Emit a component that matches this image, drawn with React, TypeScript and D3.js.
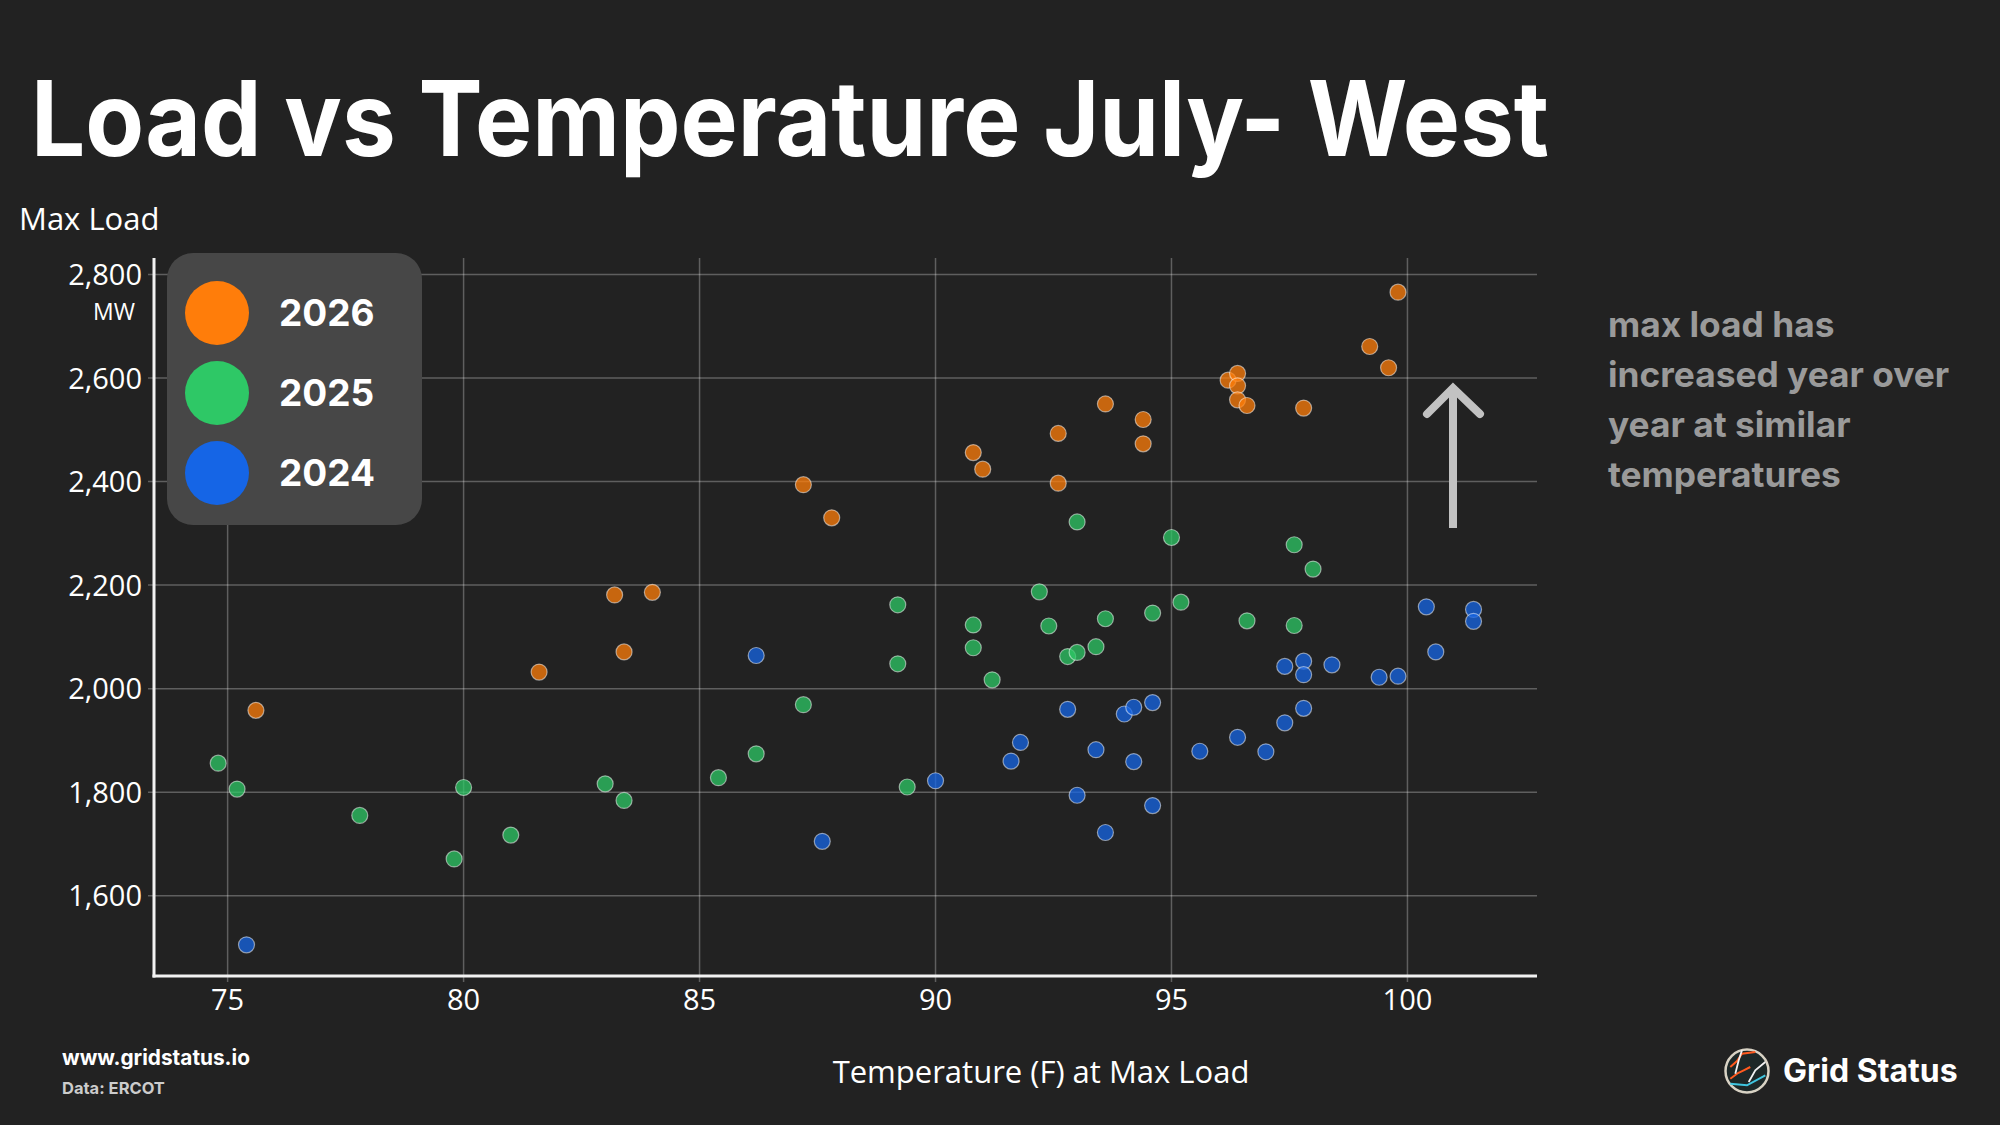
import React from "react";
import * as d3 from "d3";

const years = ["2026", "2025", "2024"];
const yearColors = ["#ff7d0a", "#2ec866", "#1565e6"];

const temp2026 = [75.6, 81.6, 83.2, 83.4, 84.0, 87.2, 87.8, 90.8, 91.0, 92.6, 92.6, 93.6, 94.4, 94.4, 96.2, 96.4, 96.4, 96.4, 96.6, 97.8, 99.2, 99.6, 99.8];
const load2026 = [1958, 2032, 2181, 2071, 2186, 2394, 2330, 2456, 2424, 2493, 2397, 2550, 2520, 2473, 2596, 2609, 2585, 2558, 2547, 2542, 2661, 2620, 2766];

const temp2025 = [74.8, 75.2, 77.8, 79.8, 80.0, 81.0, 83.0, 83.4, 85.4, 86.2, 87.2, 89.2, 89.2, 89.4, 90.8, 90.8, 91.2, 92.2, 92.4, 92.8, 93.0, 93.0, 93.4, 93.6, 94.6, 95.0, 95.2, 96.6, 97.6, 97.6, 98.0];
const load2025 = [1856, 1806, 1755, 1671, 1809, 1717, 1816, 1784, 1828, 1874, 1969, 2162, 2048, 1810, 2123, 2079, 2017, 2187, 2121, 2062, 2070, 2322, 2081, 2135, 2146, 2292, 2167, 2131, 2278, 2122, 2231];

const temp2024 = [75.4, 86.2, 87.6, 90.0, 91.6, 91.8, 92.8, 93.0, 93.4, 93.6, 94.0, 94.2, 94.2, 94.6, 94.6, 95.6, 96.4, 97.0, 97.4, 97.4, 97.8, 97.8, 97.8, 98.4, 99.4, 99.8, 100.4, 100.6, 101.4, 101.4];
const load2024 = [1505, 2064, 1705, 1822, 1860, 1896, 1960, 1794, 1882, 1722, 1951, 1964, 1859, 1973, 1774, 1879, 1906, 1878, 1934, 2043, 2053, 2027, 1962, 2046, 2022, 2024, 2158, 2071, 2153, 2130];

const xTicks = [75, 80, 85, 90, 95, 100];
const yTicks = [1600, 1800, 2000, 2200, 2400, 2600, 2800];

const titleText = "Load vs Temperature July- West";
const yAxisTitle = "Max Load";
const yUnit = "MW";
const xAxisTitle = "Temperature (F) at Max Load";
const noteLines = ["max load has", "increased year over", "year at similar", "temperatures"];
const siteText = "www.gridstatus.io";
const sourceText = "Data: ERCOT";
const brandText = "Grid Status";

const W = 2000;
const H = 1125;
const BG = "#222222";
const SANS = "'Open Sans', 'Noto Sans', sans-serif";
const INTER = "Inter, 'Noto Sans', sans-serif";

export default function App() {
  const x = d3.scaleLinear().domain([73.44, 102.745]).range([154, 1537]);
  const y = d3.scaleLinear().domain([1444.8, 2832]).range([976, 258]);
  const fmt = d3.format(",");

  const series = [
    { t: temp2024, l: load2024, c: yearColors[2] },
    { t: temp2025, l: load2025, c: yearColors[1] },
    { t: temp2026, l: load2026, c: yearColors[0] },
  ];

  const [x0, x1] = x.range();
  const [yb, yt] = y.range();

  const lx = (px: number, py: number) => `${1747 + px},${1071 + py}`;

  return (
    <svg
      width={W}
      height={H}
      viewBox={`0 0 ${W} ${H}`}
      style={{ position: "absolute", left: 0, top: 0, display: "block" }}
    >
      <rect x={0} y={0} width={W} height={H} fill={BG} />

      {/* Title */}
      <text
        x={31}
        y={156}
        fill="#ffffff"
        fontFamily={INTER}
        fontWeight={700}
        fontSize={104}
        textLength={1518}
        lengthAdjust="spacingAndGlyphs"
      >
        {titleText}
      </text>

      {/* y axis title */}
      <text x={19} y={230} fill="#ffffff" fontFamily={SANS} fontSize={31}>
        {yAxisTitle}
      </text>

      {/* gridlines */}
      {xTicks.map((t) => (
        <line key={"gx" + t} x1={x(t)} x2={x(t)} y1={yt} y2={yb + 6} stroke="rgba(255,255,255,0.28)" strokeWidth={1.5} />
      ))}
      {yTicks.map((t) => (
        <line key={"gy" + t} x1={x0 - 6} x2={x1} y1={y(t)} y2={y(t)} stroke="rgba(255,255,255,0.28)" strokeWidth={1.5} />
      ))}

      {/* axes */}
      <line x1={x0} x2={x0} y1={yt} y2={yb + 1.5} stroke="#f2f2f2" strokeWidth={3} />
      <line x1={x0 - 1.5} x2={x1} y1={yb} y2={yb} stroke="#f2f2f2" strokeWidth={3} />

      {/* tick labels */}
      {yTicks.map((t) => (
        <text key={"ly" + t} x={142} y={y(t)} dy="0.36em" textAnchor="end" fill="#ffffff" fontFamily={SANS} fontSize={29}>
          {fmt(t)}
        </text>
      ))}
      <text x={114} y={320} textAnchor="middle" fill="#ffffff" fontFamily={SANS} fontSize={23}>
        {yUnit}
      </text>
      {xTicks.map((t) => (
        <text key={"lx" + t} x={x(t)} y={1010} textAnchor="middle" fill="#ffffff" fontFamily={SANS} fontSize={29}>
          {t}
        </text>
      ))}
      <text x={1041} y={1083} textAnchor="middle" fill="#ffffff" fontFamily={SANS} fontSize={31}>
        {xAxisTitle}
      </text>

      {/* points */}
      {series.map((s, si) =>
        s.t.map((t, i) => (
          <circle
            key={si + "-" + i}
            cx={x(t)}
            cy={y(s.l[i])}
            r={8}
            fill={s.c}
            fillOpacity={0.75}
            stroke="rgba(255,255,255,0.5)"
            strokeWidth={1.2}
          />
        ))
      )}

      {/* legend */}
      <rect x={167} y={253} width={255} height={272} rx={26} ry={26} fill="#474747" />
      {years.map((yr, i) => {
        const cy = 313 + i * 80;
        return (
          <g key={yr}>
            <circle cx={217} cy={cy} r={32} fill={yearColors[i]} />
            <text x={279} y={cy} dy="0.36em" fill="#ffffff" fontFamily={INTER} fontWeight={700} fontSize={37}>
              {yr}
            </text>
          </g>
        );
      })}

      {/* annotation arrow */}
      <line x1={1453} x2={1453} y1={528} y2={392} stroke="#c2c2c2" strokeWidth={8} />
      <polyline
        points="1427,414 1453,388 1480,414"
        fill="none"
        stroke="#c2c2c2"
        strokeWidth={8}
        strokeLinecap="round"
        strokeLinejoin="miter"
      />

      {/* annotation text */}
      {noteLines.map((ln, i) => (
        <text key={ln} x={1608} y={337 + i * 50} fill="#9a9a9a" fontFamily={INTER} fontWeight={700} fontSize={35.3}>
          {ln}
        </text>
      ))}

      {/* footer */}
      <text x={62} y={1065} fill="#ffffff" fontFamily={INTER} fontWeight={700} fontSize={20.8}>
        {siteText}
      </text>
      <text x={62} y={1094} fill="#cccccc" fontFamily={INTER} fontWeight={700} fontSize={16.5}>
        {sourceText}
      </text>

      {/* logo */}
      <circle cx={1747} cy={1071} r={21.5} fill="#1d2828" stroke="#d8d2c4" strokeWidth={2.5} />
      <polyline points={[lx(-16.7, -4), lx(-10, -10), lx(-5, -17.3), lx(8.3, -19)].join(" ")} fill="none" stroke="#ff5a1f" strokeWidth={2} />
      <polyline points={[lx(-16.7, 7.7), lx(-9, 2), lx(-3.3, -0.7), lx(3.3, -4)].join(" ")} fill="none" stroke="#ff5a1f" strokeWidth={2} />
      <polyline points={[lx(-5, -20.7), lx(-8.3, -10.7), lx(-11.7, 2.7)].join(" ")} fill="none" stroke="#f2f2f2" strokeWidth={1.8} />
      <polyline points={[lx(18.3, -9), lx(8.3, -0.7), lx(1.7, 11)].join(" ")} fill="none" stroke="#f2f2f2" strokeWidth={1.8} />
      <polyline points={[lx(-16.7, 12.7), lx(0, 14.3), lx(18.3, 4.3)].join(" ")} fill="none" stroke="#3fc6e0" strokeWidth={2} />
      <text x={1783} y={1082} fill="#ffffff" fontFamily={INTER} fontWeight={700} fontSize={32}>
        {brandText}
      </text>
    </svg>
  );
}
